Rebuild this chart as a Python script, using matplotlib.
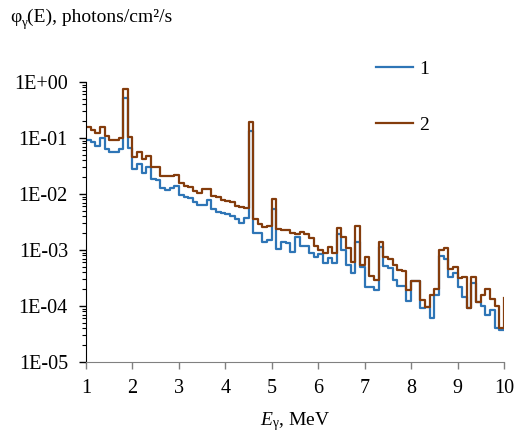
import numpy as np
import matplotlib
matplotlib.use('Agg')
import matplotlib.pyplot as plt
from matplotlib.ticker import FixedLocator, FuncFormatter, LogLocator, NullFormatter

plt.rcParams['font.family'] = 'Liberation Serif'
plt.rcParams['mathtext.fontset'] = 'custom'
plt.rcParams['mathtext.rm'] = 'Liberation Serif'
plt.rcParams['mathtext.it'] = 'Liberation Serif:italic'
plt.rcParams['mathtext.default'] = 'regular'

# energy grid, 0.1 MeV bins from 1 to 10 MeV (bin lower edges + end point)
energy = np.linspace(1.0, 10.0, 91)

# series 1 (blue), 90 bins + value at 10 MeV
flux1 = [0.092, 0.0838, 0.0720, 0.0988, 0.0629, 0.0569, 0.0569, 0.0629, 0.512, 0.0655,
         0.0276, 0.0343, 0.0234, 0.0300, 0.0183, 0.0178, 0.0130, 0.0118, 0.0126, 0.0139,
         0.00960, 0.00873, 0.00849, 0.00720, 0.00636, 0.00636, 0.00766, 0.00533, 0.00483, 0.00449,
         0.00440, 0.00405, 0.00353, 0.00307, 0.00368, 0.136, 0.00201, 0.00199, 0.00141, 0.00151,
         0.00533, 0.00103, 0.00141, 0.00132, 0.000933, 0.00169, 0.00120, 0.00116, 0.000873, 0.000759,
         0.000841, 0.000598, 0.000726, 0.000598, 0.00193, 0.00100, 0.000540, 0.000392, 0.00141, 0.000497,
         0.000216, 0.000216, 0.000193, 0.00112, 0.000509, 0.000481, 0.000297, 0.000228, 0.000228, 0.000124,
         0.000274, 0.000274, 0.0000933, 0.0000948, 0.0000615, 0.000154, 0.000772, 0.000697, 0.000330, 0.000384,
         0.000218, 0.000142, 0.0000929, 0.000254, 0.000119, 0.000100, 0.0000700, 0.0000849, 0.0000408, 0.0000377,
         0.0000377]

# series 2 (brown)
flux2 = [0.159, 0.139, 0.124, 0.159, 0.109, 0.092, 0.092, 0.099, 0.741, 0.105,
         0.0463, 0.0569, 0.0417, 0.0483, 0.0307, 0.0300, 0.0210, 0.0210, 0.0210, 0.0218,
         0.0155, 0.0139, 0.0136, 0.0113, 0.0104, 0.0123, 0.0123, 0.0092, 0.00866, 0.00782,
         0.00750, 0.00720, 0.00618, 0.00579, 0.00556, 0.195, 0.00358, 0.00291, 0.00261, 0.00268,
         0.00804, 0.00235, 0.00230, 0.00223, 0.00199, 0.00197, 0.00212, 0.00197, 0.00167, 0.00116,
         0.00100, 0.000902, 0.00113, 0.000895, 0.00244, 0.00173, 0.00107, 0.000618, 0.00271, 0.000540,
         0.000759, 0.000343, 0.000291, 0.00139, 0.000759, 0.000682, 0.000540, 0.000439, 0.000430, 0.000193,
         0.000285, 0.000285, 0.000128, 0.0000960, 0.000160, 0.000204, 0.00101, 0.00107, 0.000458, 0.000487,
         0.000316, 0.000336, 0.0000940, 0.000336, 0.000119, 0.000154, 0.000203, 0.000135, 0.0000980, 0.0000413,
         0.000140]

labels = ['1', '2']
colors = ['#2E75B6', '#843C0C']
x_ticks = [1, 2, 3, 4, 5, 6, 7, 8, 9, 10]
y_ticks = [1e-5, 1e-4, 1e-3, 1e-2, 1e-1, 1e0]

fig = plt.figure(figsize=(5.23, 4.37), dpi=100)
ax = fig.add_axes([86 / 523, 1 - 362 / 437, (504 - 86) / 523, (362 - 82) / 437])

for y, c, lab in zip([flux1, flux2], colors, labels):
    ax.step(energy, y, where='post', color=c, lw=1.6, label=lab)

ax.set_yscale('log')
ax.set_xlim(1, 10)
ax.set_ylim(1e-5, 1)
ax.xaxis.set_major_locator(FixedLocator(x_ticks))
ax.yaxis.set_major_locator(FixedLocator(y_ticks))
ax.yaxis.set_minor_locator(LogLocator(base=10, subs=np.arange(2, 10)))
ax.yaxis.set_minor_formatter(NullFormatter())
ax.yaxis.set_major_formatter(FuncFormatter(lambda v, p: '1E+00' if v >= 1 else '1E-%02d' % round(-np.log10(v))))

for s in ['top', 'right']:
    ax.spines[s].set_visible(False)
ax.spines['left'].set_color('black')
ax.spines['bottom'].set_color('#808080')
ax.tick_params(axis='both', which='major', direction='out', length=5, width=1, labelsize=14.5)
ax.tick_params(axis='y', which='major', pad=8)
ax.tick_params(axis='x', which='major', pad=7, colors='#808080', labelcolor='black')
ax.tick_params(axis='y', which='minor', direction='out', length=3, width=0.8)

ax.set_xlabel(r'$\mathit{E}_{γ}$, MeV', fontsize=14, labelpad=9)

# y-axis title above the plot, built from plain text pieces (phi, subscript gamma, rest)
W, H = fig.bbox.width, fig.bbox.height
y0 = 1 - 22 / 437
renderer = fig.canvas.get_renderer()
t1 = fig.text(10 / 523, y0, 'φ', fontsize=14, va='baseline')
x1 = t1.get_window_extent(renderer).x1 / W
t2 = fig.text(x1, y0 - 4 / 437, 'γ', fontsize=9.5, va='baseline')
x2 = t2.get_window_extent(renderer).x1 / W
fig.text(x2, y0, '(E), photons/cm²/s', fontsize=14, va='baseline')

ax.legend(loc='upper left', bbox_to_anchor=(376 / 523, 1 - 60 / 437), bbox_transform=fig.transFigure,
          frameon=False, fontsize=14, handlelength=1.9, handletextpad=0.3, labelspacing=2.0,
          borderpad=0, borderaxespad=0)

fig.savefig('out.png', dpi=100)
